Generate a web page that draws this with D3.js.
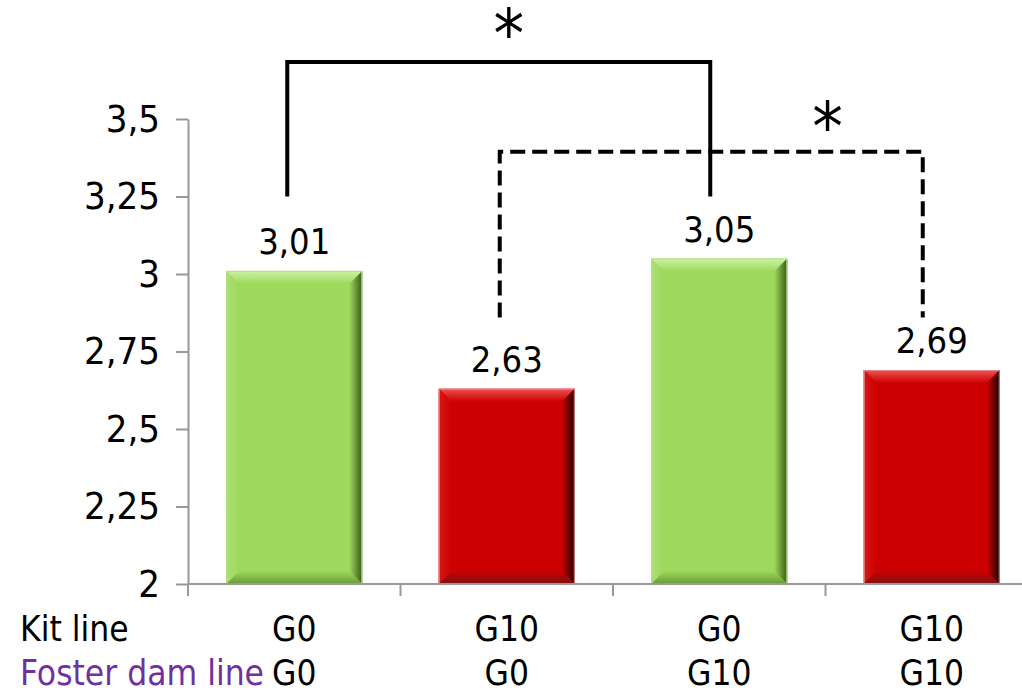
<!DOCTYPE html>
<html>
<head>
<meta charset="utf-8">
<script src="https://cdn.jsdelivr.net/npm/d3@7"></script>
<style>
  body { margin: 0; background: #fff; }
  svg text { font-family: 'DejaVu Sans Condensed', 'DejaVu Sans', sans-serif; }
</style>
</head>
<body>
<div id="chart"></div>
<script>
// data
const kitLine = ['G0', 'G10', 'G0', 'G10']
const fosterLine = ['G0', 'G0', 'G10', 'G10']
const values = [3.01, 2.63, 3.05, 2.69]
const yTicks = [2, 2.25, 2.5, 2.75, 3, 3.25, 3.5]
// significance brackets: which bars are compared
const pairs = [[0, 2], [1, 3]]
const pairLabels = ['*', '*']

const width = 1022
const height = 690

const svg = d3.select('#chart')
  .append('svg')
  .attr('width', width)
  .attr('height', height)

// scales
const xPositionScale = d3.scaleBand()
  .domain(d3.range(values.length))
  .range([188, 1038])
  .paddingInner(0.36)
  .paddingOuter(0.18)

const yPositionScale = d3.scaleLinear()
  .domain([2, 3.5])
  .range([584, 119])

const center = i => xPositionScale(i) + xPositionScale.bandwidth() / 2

// bevel colours per kit line
const palette = {
  G0: { main: '#9dd95c', light: '#cdf2a6', left: '#addf74', dark: '#3a581a', bottom: '#6a9a38', edge: '#b4e184' },
  G10: { main: '#cc0000', light: '#ee5050', left: '#d61818', dark: '#1a0000', bottom: '#7a1212', edge: '#e08c8c' }
}

const defs = svg.append('defs')
function grad(id, x2, y2, c1, c2) {
  const g = defs.append('linearGradient').attr('id', id)
    .attr('x1', 0).attr('y1', 0).attr('x2', x2).attr('y2', y2)
  g.append('stop').attr('offset', '0%').attr('stop-color', c1)
  g.append('stop').attr('offset', '100%').attr('stop-color', c2)
}
Object.keys(palette).forEach(function(k) {
  const p = palette[k]
  grad('top-' + k, 0, 1, p.light, p.main)
  grad('right-' + k, 1, 0, p.main, p.dark)
  grad('bottom-' + k, 0, 1, p.main, p.bottom)
  grad('left-' + k, 1, 0, p.left, p.main)
})

// axes
const yAxis = d3.axisLeft(yPositionScale)
  .tickValues(yTicks)
  .tickSize(12)
  .tickSizeOuter(0)
  .tickPadding(16)
  .tickFormat(d => String(d).replace('.', ','))

svg.append('g')
  .attr('class', 'axis y-axis')
  .attr('transform', 'translate(188,0)')
  .call(yAxis)

svg.selectAll('.y-axis path, .y-axis line')
  .attr('stroke', '#989898')
  .attr('stroke-width', 2)
svg.selectAll('.y-axis text')
  .attr('font-size', 38)
  .attr('fill', '#000')
  .style('font-family', "'DejaVu Sans Condensed', 'DejaVu Sans', sans-serif")

// bars with a bevel
const b = 13
const bars = svg.selectAll('.bar')
  .data(values)
  .enter()
  .append('g')
  .attr('class', 'bar')

bars.each(function(d, i) {
  const g = d3.select(this)
  const k = kitLine[i]
  const x0 = xPositionScale(i)
  const x1 = x0 + xPositionScale.bandwidth()
  const y0 = yPositionScale(d)
  const y1 = yPositionScale(2)
  g.append('rect')
    .attr('x', x0).attr('y', y0)
    .attr('width', x1 - x0).attr('height', y1 - y0)
    .attr('fill', palette[k].main)
  const faces = {
    top: [[x0, y0], [x1, y0], [x1 - b, y0 + b], [x0 + b, y0 + b]],
    left: [[x0, y0], [x0, y1], [x0 + b, y1 - b], [x0 + b, y0 + b]],
    bottom: [[x0, y1], [x1, y1], [x1 - b, y1 - b], [x0 + b, y1 - b]],
    right: [[x1, y0], [x1, y1], [x1 - b, y1 - b], [x1 - b, y0 + b]]
  }
  Object.keys(faces).forEach(function(f) {
    g.append('polygon')
      .attr('points', faces[f].map(p => p.join(',')).join(' '))
      .attr('fill', 'url(#' + f + '-' + k + ')')
  })
  g.append('rect')
    .attr('x', x0 + 0.5).attr('y', y0 + 0.5)
    .attr('width', x1 - x0 - 1).attr('height', y1 - y0 - 1)
    .attr('fill', 'none')
    .attr('stroke', palette[k].edge)
    .attr('stroke-width', 1)
})

// value labels
svg.selectAll('.value')
  .data(values)
  .enter()
  .append('text')
  .attr('class', 'value')
  .attr('x', (d, i) => center(i))
  .attr('y', d => yPositionScale(d) - 17)
  .attr('text-anchor', 'middle')
  .attr('font-size', 36)
  .text(d => d3.format('.2f')(d).replace('.', ','))

// x axis line and category boundary ticks
const x0 = xPositionScale.range()[0]
const step = xPositionScale.step()
svg.append('line')
  .attr('x1', x0).attr('x2', xPositionScale.range()[1])
  .attr('y1', yPositionScale(2)).attr('y2', yPositionScale(2))
  .attr('stroke', '#989898').attr('stroke-width', 2)
svg.selectAll('.xtick')
  .data(d3.range(values.length + 1))
  .enter()
  .append('line')
  .attr('x1', i => x0 + i * step).attr('x2', i => x0 + i * step)
  .attr('y1', yPositionScale(2)).attr('y2', yPositionScale(2) + 12)
  .attr('stroke', '#989898').attr('stroke-width', 2)

// category rows
svg.selectAll('.kit')
  .data(kitLine)
  .enter()
  .append('text')
  .attr('x', (d, i) => center(i))
  .attr('y', 641)
  .attr('text-anchor', 'middle')
  .attr('font-size', 35)
  .text(d => d)
svg.selectAll('.foster')
  .data(fosterLine)
  .enter()
  .append('text')
  .attr('x', (d, i) => center(i))
  .attr('y', 685)
  .attr('text-anchor', 'middle')
  .attr('font-size', 35)
  .text(d => d)

svg.append('text').attr('x', 20).attr('y', 641)
  .attr('font-size', 35).attr('fill', '#000')
  .text('Kit line')
svg.append('text').attr('x', 20).attr('y', 685)
  .attr('font-size', 35).attr('fill', '#7030a0')
  .text('Foster dam line')

// significance brackets (levels in data units)
const bracketLow = [3.25, 2.86]
const bracketTop = [3.684, 3.394]
const starPos = [1, 2.5]
const starY = [3.7, 3.4]
pairs.forEach(function(p, j) {
  const xa = center(p[0]) - 7
  const xb = center(p[1]) - 9
  const path = d3.path()
  path.moveTo(xa, yPositionScale(bracketLow[j]))
  path.lineTo(xa, yPositionScale(bracketTop[j]))
  path.lineTo(xb, yPositionScale(bracketTop[j]))
  path.lineTo(xb, yPositionScale(bracketLow[j]))
  svg.append('path')
    .attr('d', path.toString())
    .attr('fill', 'none')
    .attr('stroke', '#000')
    .attr('stroke-width', 4)
    .attr('stroke-dasharray', j === 0 ? null : '15,7')
  svg.append('text')
    .attr('x', center(0) + starPos[j] * step + 2)
    .attr('y', yPositionScale(starY[j]))
    .attr('text-anchor', 'middle')
    .attr('font-size', 68)
    .text(pairLabels[j])
})
</script>
</body>
</html>
